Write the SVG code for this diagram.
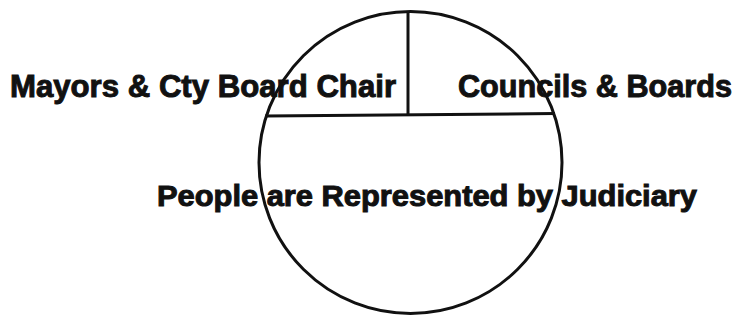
<svg xmlns="http://www.w3.org/2000/svg" width="741" height="324" viewBox="0 0 741 324">
<style>
.lbl{font-family:"Liberation Sans",Arial,sans-serif;font-weight:bold;fill:#111;stroke:#111;stroke-width:1}
.ln{fill:none;stroke:#111;stroke-width:3}
</style>
<rect width="741" height="324" fill="#fff"/>
<g id="connectors">
<ellipse id="circle" class="ln" cx="410.5" cy="162.5" rx="151.5" ry="151"/>
<line class="ln" x1="265" y1="116" x2="555" y2="113.5"/>
<line class="ln" x1="408" y1="11" x2="408" y2="115"/>
</g>
<g id="mayors"><text class="lbl" x="10" y="97" font-size="32" textLength="386" lengthAdjust="spacingAndGlyphs">Mayors &amp; Cty Board Chair</text></g>
<g id="councils"><text class="lbl" x="458" y="97" font-size="32" textLength="274" lengthAdjust="spacingAndGlyphs">Councils &amp; Boards</text></g>
<g id="people"><text class="lbl" x="157" y="206" font-size="29" textLength="540" lengthAdjust="spacingAndGlyphs">People are Represented by Judiciary</text></g>
</svg>
